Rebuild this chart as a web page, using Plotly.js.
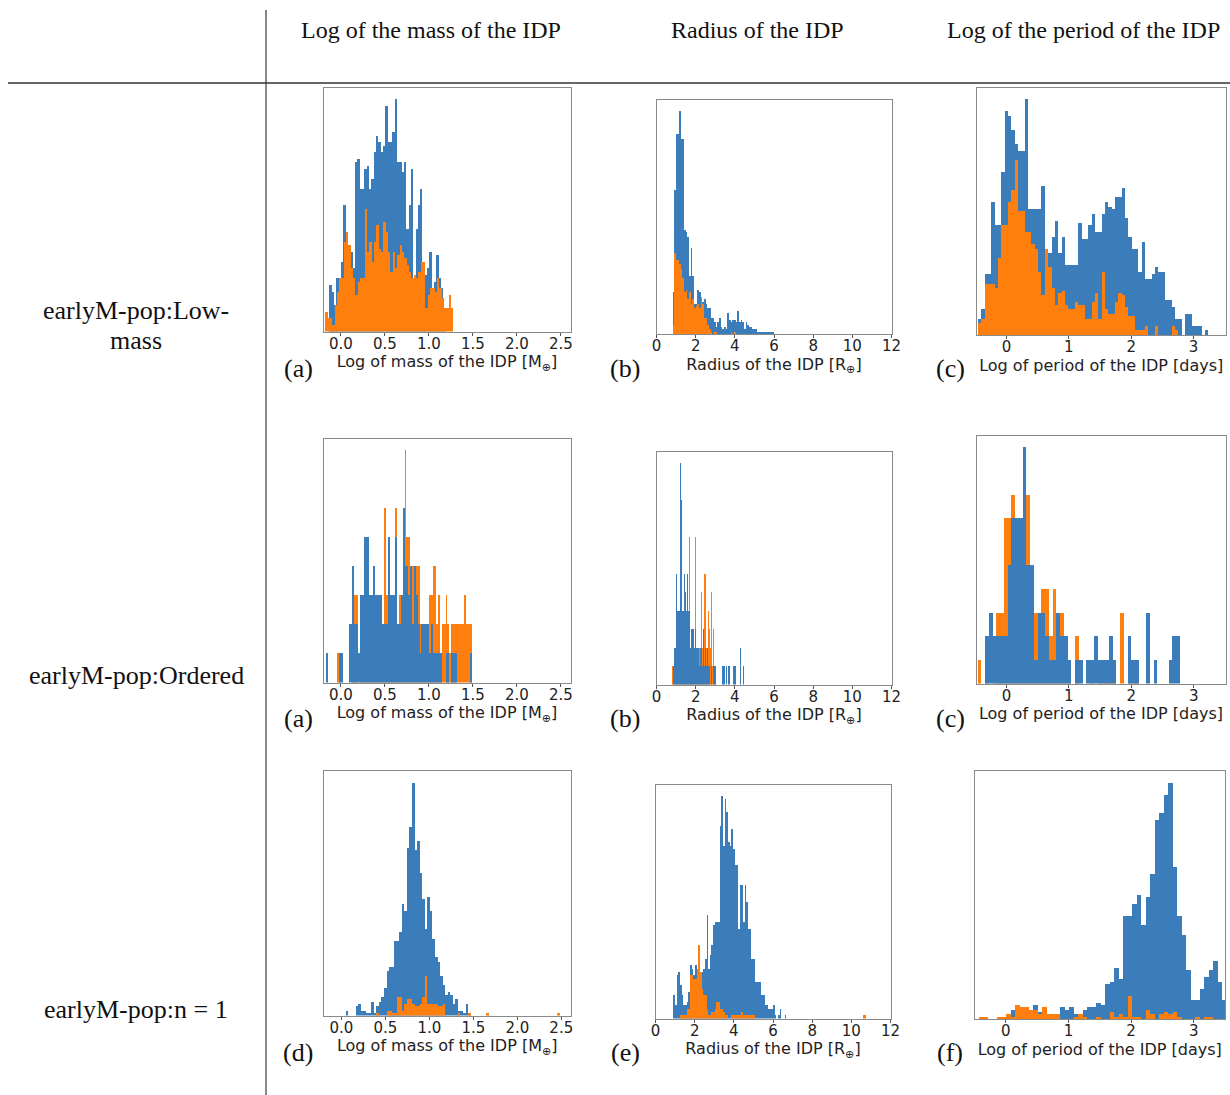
<!DOCTYPE html>
<html><head><meta charset="utf-8">
<script src="https://cdn.plot.ly/plotly-3.0.1.min.js"></script>
<style>html,body{margin:0;padding:0;background:#fff;} #chart{width:1230px;height:1095px;}</style>
</head><body><div id="chart"></div>
<script>
const W = 1230, H = 1095;
const BLUE = '#3a7dba', ORANGE = '#ff7f0e';

// ---------- text content ----------
const colHeaders = ['Log of the mass of the IDP', 'Radius of the IDP', 'Log of the period of the IDP'];
const rowLabels = [['earlyM-pop:Low-', 'mass'], ['earlyM-pop:Ordered'], ['earlyM-pop:n = 1']];
const panelLetters = [['(a)', '(b)', '(c)'], ['(a)', '(b)', '(c)'], ['(d)', '(e)', '(f)']];
const axisTitles = ['Log of mass of the IDP [M<sub>⊕</sub>]', 'Radius of the IDP [R<sub>⊕</sub>]', 'Log of period of the IDP [days]'];
const tickVals = [[0, 0.5, 1, 1.5, 2, 2.5], [0, 2, 4, 6, 8, 10, 12], [0, 1, 2, 3]];
const tickText = [['0.0', '0.5', '1.0', '1.5', '2.0', '2.5'], ['0', '2', '4', '6', '8', '10', '12'], ['0', '1', '2', '3']];

// ---------- histogram data (bin start, bin width, counts) ----------
// Row 1: earlyM-pop:Low-mass
const lowMassMassBlueStart = -0.132, lowMassMassBlueWidth = 0.0265;
const lowMassMassBlue = [14,12,8,16,16,21,38,27,26,24,19,51,52,43,43,49,50,43,46,54,59,57,54,56,68,57,57,60,70,51,51,48,51,31,38,49,15,31,38,43,21,17,19,24,13,15,23,16,13,2];
const lowMassMassOrangeStart = -0.178, lowMassMassOrangeWidth = 0.0265;
const lowMassMassOrange = [6,4,4,2,8,12,16,16,27,30,26,19,16,11,15,16,16,37,24,27,21,27,32,25,24,33,30,24,18,24,19,23,26,24,22,20,18,16,17,16,18,21,21,7,11,13,13,12,16,13,10,7,7,11,7];

const lowMassRadiusBlueStart = 0.817, lowMassRadiusBlueWidth = 0.085;
const lowMassRadiusBlue = [18,62,86,86,96,84,84,45,44,42,25,37,25,13,13,19,18,10,14,15,13,11,11,7,7,5,3,5,7,3,2,3,2,9,6,5,6,6,5,10,5,6,5,2,5,4,3,3,2,2,2,1,1,1,1,1,1,1,1,1,1];
const lowMassRadiusOrangeStart = 0.817, lowMassRadiusOrangeWidth = 0.085;
const lowMassRadiusOrange = [4,35,32,32,30,28,24,18,19,15,18,13,15,11,12,13,11,16,13,7,7,4,2,1,0,1,1,0,0,0,0,0,0,0,0,1,0,1];

const lowMassPeriodBlueStart = -0.4545, lowMassPeriodBlueWidth = 0.0535;
const lowMassPeriodBlue = [7,11,26,26,57,47,47,70,96,94,88,82,79,79,101,54,54,54,54,64,35,35,42,49,35,42,30,30,30,30,48,41,41,47,52,44,44,52,57,55,54,59,59,63,50,42,37,37,27,40,24,24,26,29,27,27,15,15,12,7,7,0,9,9,4,4,4,0,2,0];
const lowMassPeriodOrangeStart = -0.4545, lowMassPeriodOrangeWidth = 0.0535;
const lowMassPeriodOrange = [5,7,22,22,22,20,33,47,47,57,62,75,53,53,44,44,39,37,27,17,37,29,20,13,18,19,13,11,11,14,13,13,7,7,14,18,7,27,11,9,9,14,18,17,12,8,8,2,2,2,4,0,0,4,0,0,0,0,4,2];

// Row 2: earlyM-pop:Ordered
const orderedMassBlueStart = -0.166, orderedMassBlueWidth = 0.0212;
const orderedMassBlue = [1,0,0,0,0,0,0,1,1,0,0,0,2,2,4,2,2,1,3,3,5,5,5,3,3,4,3,3,3,3,2,2,2,5,3,3,3,5,2,2,3,6,4,4,3,4,2,4,3,2,1,2,2,2,2,1,2,1,1,1,1,1,0,0,1,1,0,1,1,1,0,0,0,0,0,0,0,1];
const orderedMassOrangeStart = -0.166, orderedMassOrangeWidth = 0.0212;
const orderedMassOrange = [0,0,0,0,0,0,1,1,0,0,0,0,0,0,2,3,3,0,2,2,3,3,3,2,3,2,3,2,2,2,2,6,3,4,3,3,3,6,2,3,2,4,8,5,5,3,4,4,4,4,2,1,2,2,2,3,3,4,4,2,3,1,2,2,3,2,1,2,2,2,2,2,2,2,3,2,2,2];

const orderedRadiusBlueStart = 0.80, orderedRadiusBlueWidth = 0.05;
const orderedRadiusBlue = [0,1,2,2,6,4,4,4,12,10,4,4,6,5,4,6,4,4,2,3,3,3,2,3,2,2,2,1,2,2,1,3,2,1,2,1,2,1,1,0,1,0,1,1,1,0,0,0,0,0,0,1,1,1,0,1,0,1,1,0,0,0,1,1,1,0,0,0,0,2,0,0,1];
const orderedRadiusOrangeStart = 0.80, orderedRadiusOrangeWidth = 0.05;
const orderedRadiusOrange = [1,1,2,1,2,3,3,3,3,3,2,3,3,3,2,2,3,8,2,2,3,2,2,8,2,2,2,2,2,5,2,3,2,6,6,2,2,4,3,2,5,1,3,1,1];

const orderedPeriodBlueStart = -0.46, orderedPeriodBlueWidth = 0.06;
const orderedPeriodBlue = [0,0,2,3,2,2,2,2,5,7,7,7,10,5,5,1,3,3,2,1,1,3,2,2,1,0,1,1,0,1,1,2,1,1,1,2,1,0,0,0,2,1,1,0,0,3,0,1,0,0,0,1,2,2];
const orderedPeriodOrangeStart = -0.46, orderedPeriodOrangeWidth = 0.06;
const orderedPeriodOrange = [1,0,1,0,2,3,3,7,7,8,6,5,4,8,4,3,3,4,4,2,4,2,3,1,1,0,2,0,0,0,1,0,1,1,1,2,1,0,3,0,1,1,1,0];

// Row 3: earlyM-pop:n = 1
const n1MassBlueStart = 0.049, n1MassBlueWidth = 0.029;
const n1MassBlue = [2,0,0,0,4,5,2,2,1,1,6,1,4,6,8,12,19,21,21,32,32,36,48,45,72,81,100,71,75,61,50,37,51,45,33,25,23,17,13,9,10,9,5,7,2,2,1,5,1];
const n1MassOrangeStart = 0.049, n1MassOrangeWidth = 0.029;
const n1MassOrange = [0,0,0,0,0,0,0,0,0,0,0,0,1,0,0,0,2,2,1,1,8,8,2,5,7,7,5,4,4,5,8,17,5,5,5,5,4,4,5,0,0,0,0,0,1,0,0,0,1,0,0,0,0,0,0,1,0,0,0,0,0,0,0,0,0,0,0,0,0,0,0,0,0,0,0,0,0,0,0,0,0,0,0,1];

const n1RadiusBlueStart = 0.902, n1RadiusBlueWidth = 0.0851;
const n1RadiusBlue = [7,4,13,14,10,7,4,4,5,8,16,15,13,16,13,14,9,14,15,18,31,15,19,22,28,29,29,29,58,67,52,66,62,53,52,57,51,46,46,27,40,40,29,40,35,27,27,18,18,11,11,11,11,7,7,4,4,3,3,3,4,1,0,1,3,0,0,1];
const n1RadiusOrangeStart = 0.902, n1RadiusOrangeWidth = 0.0851;
const n1RadiusOrange = [0,0,0,0,1,1,1,1,3,3,13,13,12,12,15,22,14,9,7,7,3,1,1,2,2,3,5,5,3,3,2,1,1,0,0,1,1,1,1,1,1,2,1,1,1,1,1,1,1,
  0,0,0,0,0,0,0,0,0,0,0,0,0,0,0,0,0,0,0,0,0,0,0,0,0,0,0,0,0,0,0,0,0,0,0,0,0,0,0,0,0,0,0,0,0,0,0,0,0,0,0,0,0,0,0,0,0,0,0,0,0,0,0,0,0,1,1];

const n1PeriodBlueStart = -0.064, n1PeriodBlueWidth = 0.0719;
const n1PeriodBlue = [1,2,4,2,3,3,4,6,3,3,2,2,2,5,4,5,2,2,4,5,5,7,6,15,16,22,17,44,44,49,53,40,52,62,85,88,96,101,65,44,36,21,8,8,13,18,21,25,16,8];
const n1PeriodOrangeStart = -0.4236, n1PeriodOrangeWidth = 0.0719;
const n1PeriodOrange = [1,1,0,0,1,1,2,1,6,5,5,4,4,2,5,2,2,2,0,0,0,1,2,1,0,0,1,0,0,3,1,2,1,10,1,1,0,4,2,0,2,3,2,3,1,0,0,0,1,0,1,1];

// ---------- panel layout (pixel boxes) ----------
const panels = [
  {r:0,c:0, box:[323.5,570.5,87.5,331.5], xr:[-0.197,2.61], blue:[lowMassMassBlueStart,lowMassMassBlueWidth,lowMassMassBlue], orange:[lowMassMassOrangeStart,lowMassMassOrangeWidth,lowMassMassOrange], blueOnTop:false},
  {r:0,c:1, box:[656.5,891.5,100,334], xr:[0,12], blue:[lowMassRadiusBlueStart,lowMassRadiusBlueWidth,lowMassRadiusBlue], orange:[lowMassRadiusOrangeStart,lowMassRadiusOrangeWidth,lowMassRadiusOrange], blueOnTop:false},
  {r:0,c:2, box:[976.5,1226,87.5,335], xr:[-0.48,3.52], blue:[lowMassPeriodBlueStart,lowMassPeriodBlueWidth,lowMassPeriodBlue], orange:[lowMassPeriodOrangeStart,lowMassPeriodOrangeWidth,lowMassPeriodOrange], blueOnTop:false},
  {r:1,c:0, box:[323.5,570.5,438.5,682.5], xr:[-0.197,2.61], blue:[orderedMassBlueStart,orderedMassBlueWidth,orderedMassBlue], orange:[orderedMassOrangeStart,orderedMassOrangeWidth,orderedMassOrange], blueOnTop:true},
  {r:1,c:1, box:[656.5,891.5,451.5,684.5], xr:[0,12], blue:[orderedRadiusBlueStart,orderedRadiusBlueWidth,orderedRadiusBlue], orange:[orderedRadiusOrangeStart,orderedRadiusOrangeWidth,orderedRadiusOrange], blueOnTop:true},
  {r:1,c:2, box:[976.5,1225.5,435.5,683.5], xr:[-0.48,3.51], blue:[orderedPeriodBlueStart,orderedPeriodBlueWidth,orderedPeriodBlue], orange:[orderedPeriodOrangeStart,orderedPeriodOrangeWidth,orderedPeriodOrange], blueOnTop:true},
  {r:2,c:0, box:[324,570.5,771,1015.5], xr:[-0.198,2.605], blue:[n1MassBlueStart,n1MassBlueWidth,n1MassBlue], orange:[n1MassOrangeStart,n1MassOrangeWidth,n1MassOrange], blueOnTop:false},
  {r:2,c:1, box:[655.5,890.5,784.5,1018.5], xr:[0,12], blue:[n1RadiusBlueStart,n1RadiusBlueWidth,n1RadiusBlue], orange:[n1RadiusOrangeStart,n1RadiusOrangeWidth,n1RadiusOrange], blueOnTop:false},
  {r:2,c:2, box:[974.5,1225,771,1019], xr:[-0.5,3.5], blue:[n1PeriodBlueStart,n1PeriodBlueWidth,n1PeriodBlue], orange:[n1PeriodOrangeStart,n1PeriodOrangeWidth,n1PeriodOrange], blueOnTop:false}
];

const px = x => x / W;
const py = y => 1 - y / H;

function histTrace(spec, color, ax, ay) {
  const [start, width, counts] = spec;
  const xs = counts.map((_, i) => start + width * (i + 0.5));
  return {type:'bar', x: xs, y: counts, width: width, xaxis: ax, yaxis: ay,
          marker:{color: color, line:{width:0}}, hoverinfo:'skip', showlegend:false};
}

const traces = [];
const layout = {
  width: W, height: H, margin:{l:0,r:0,t:0,b:0}, paper_bgcolor:'#fff', plot_bgcolor:'#fff',
  barmode:'overlay', bargap:0, showlegend:false, annotations:[], shapes:[],
  font:{family:'DejaVu Sans', color:'#222'}
};

panels.forEach((p, k) => {
  const n = k === 0 ? '' : String(k + 1);
  const ax = 'x' + n, ay = 'y' + n;
  const b = histTrace(p.blue, BLUE, ax, ay);
  const o = histTrace(p.orange, ORANGE, ax, ay);
  if (p.blueOnTop) { traces.push(o, b); } else { traces.push(b, o); }
  const ymax = Math.max(Math.max(...p.blue[2]), Math.max(...p.orange[2]));
  layout['xaxis' + n] = {
    domain:[px(p.box[0]), px(p.box[1])], anchor: ay, range: p.xr,
    showline:true, mirror:true, linecolor:'#8a8a8a', linewidth:1, showgrid:false, zeroline:false,
    tickmode:'array', tickvals: tickVals[p.c], ticktext: tickText[p.c],
    ticks:'outside', ticklen:3, tickcolor:'#555', ticklabelstandoff:-5,
    tickfont:{family:'DejaVu Sans', size:15, color:'#222'},
    title:{text: axisTitles[p.c], font:{family:'DejaVu Sans', size:16, color:'#222'}, standoff:0},
    automargin:false, fixedrange:true
  };
  layout['yaxis' + n] = {
    domain:[py(p.box[3]), py(p.box[2])], anchor: ax, range:[0, ymax * 1.05],
    showline:true, mirror:true, linecolor:'#8a8a8a', linewidth:1, showgrid:false, zeroline:false,
    showticklabels:false, ticks:'', automargin:false, fixedrange:true
  };
});

// Column headers
const headerX = [430.5, 757, 1083];
colHeaders.forEach((t, i) => layout.annotations.push({
  text:t, xref:'paper', yref:'paper', x:px(headerX[i]), y:py(30), xanchor:'center', yanchor:'middle',
  showarrow:false, font:{family:'Liberation Serif', size:24, color:'#111'}
}));
// Row labels
const rowLabelY = [[310, 340], [675], [1009]];
rowLabels.forEach((lines, r) => lines.forEach((t, j) => layout.annotations.push({
  text:t, xref:'paper', yref:'paper', x:px(136), y:py(rowLabelY[r][j]), xanchor:'center', yanchor:'middle',
  showarrow:false, font:{family:'Liberation Serif', size:26, color:'#111'}
})));
// Panel letters
const letterX = [298, 625, 950], letterY = [368, 718, 1052];
panelLetters.forEach((row, r) => row.forEach((t, c) => layout.annotations.push({
  text:t, xref:'paper', yref:'paper', x:px(letterX[c]), y:py(letterY[r]), xanchor:'center', yanchor:'middle',
  showarrow:false, font:{family:'Liberation Serif', size:26, color:'#111'}
})));
// Table rules
layout.shapes.push({type:'line', xref:'paper', yref:'paper', x0:px(266), x1:px(266), y0:py(10), y1:py(1095), line:{color:'#111', width:1}});
layout.shapes.push({type:'line', xref:'paper', yref:'paper', x0:px(8), x1:px(1230), y0:py(83), y1:py(83), line:{color:'#333', width:1.5}});

Plotly.newPlot('chart', traces, layout, {staticPlot:true, displayModeBar:false});
</script>
</body></html>
